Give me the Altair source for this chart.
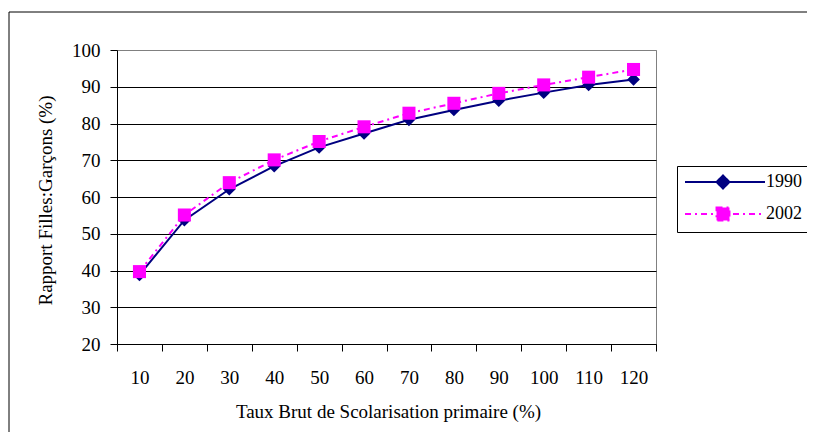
import altair as alt
import pandas as pd

categories = ["10", "20", "30", "40", "50", "60", "70", "80", "90", "100", "110", "120"]
series_names = ["1990", "2002"]
values_1990 = [38.8, 53.7, 62.1, 68.4, 73.5, 77.3, 81.0, 83.7, 86.2, 88.4, 90.5, 92.0]
values_2002 = [39.7, 55.1, 63.9, 70.1, 75.1, 79.1, 82.8, 85.5, 88.2, 90.5, 92.6, 94.7]
y_ticks = [20, 30, 40, 50, 60, 70, 80, 90, 100]

NAVY = "#000080"
MAGENTA = "#FF00FF"
FONT = "Liberation Serif"

rows = []
for c, v in zip(categories, values_1990):
    rows.append({"x": c, "y": v, "series": "1990"})
for c, v in zip(categories, values_2002):
    rows.append({"x": c, "y": v, "series": "2002"})
df = pd.DataFrame(rows)

x_enc = alt.X(
    "x:O",
    sort=categories,
    scale=alt.Scale(type="band", paddingInner=0, paddingOuter=0),
    axis=alt.Axis(
        title="Taux Brut de Scolarisation primaire (%)",
        tickBand="extent",
        tickSize=7,
        labelPadding=17,
        labelAngle=0,
        grid=False,
        domainColor="black",
        tickColor="black",
        titleX=271,
        titleY=73,
        titleBaseline="alphabetic",
        titleAlign="center",
    ),
)
y_enc = alt.Y(
    "y:Q",
    scale=alt.Scale(domain=[20, 100], nice=False, zero=False),
    axis=alt.Axis(
        title="Rapport Filles:Garçons (%)",
        values=y_ticks,
        tickSize=7,
        labelPadding=10,
        domainColor="black",
        tickColor="black",
        grid=True,
        gridColor={"condition": {"test": "datum.value == 100", "value": "#808080"}, "value": "#000000"},
        gridWidth=1,
        titleX=-66,
        titleY=150,
        titleAngle=270,
        titleBaseline="alphabetic",
        titleAlign="center",
    ),
)

base = alt.Chart(df)

line90 = base.transform_filter("datum.series == '1990'").mark_line(color=NAVY, strokeWidth=2).encode(x=x_enc, y=y_enc)
pts90 = base.transform_filter("datum.series == '1990'").mark_point(
    shape="diamond", filled=True, color=NAVY, size=160, opacity=1
).encode(x=x_enc, y=y_enc)
line02 = base.transform_filter("datum.series == '2002'").mark_line(
    color=MAGENTA, strokeWidth=2, strokeDash=[6, 4, 2, 4]
).encode(x=x_enc, y=y_enc)
pts02 = base.transform_filter("datum.series == '2002'").mark_point(
    shape="square", filled=True, color=MAGENTA, size=170, opacity=1
).encode(x=x_enc, y=y_enc)

path90 = "M-1,0L9,0M3.75,-0.81L4.56,0L3.75,0.81L2.94,0Z"
path02 = "M-1,0L9,0M2.94,-0.81L4.56,-0.81L4.56,0.81L2.94,0.81Z"

leg = alt.Legend(
    title=None,
    orient="none",
    legendX=560,
    legendY=116,
    padding=7,
    strokeColor="#000000",
    fillColor="white",
    labelFont=FONT,
    labelFontSize=18,
    labelColor="black",
    symbolSize=256,
    labelOffset=64,
    rowPadding=10,
    symbolStrokeWidth=2,
    symbolOpacity=1,
)
legend_layer = base.transform_filter("false").mark_point(filled=True, opacity=1, strokeWidth=2).encode(
    fill=alt.Fill("series:N", scale=alt.Scale(domain=series_names, range=[NAVY, MAGENTA]), legend=leg),
    stroke=alt.Stroke("series:N", scale=alt.Scale(domain=series_names, range=[NAVY, MAGENTA]), legend=leg),
    shape=alt.Shape("series:N", scale=alt.Scale(domain=series_names, range=[path90, path02]), legend=leg),
    strokeDash=alt.StrokeDash("series:N", scale=alt.Scale(domain=series_names, range=[[1, 0], [6, 4, 2, 4]]), legend=leg),
)

frame_df = pd.DataFrame({"k": [0]})
frame_left = alt.Chart(frame_df).mark_rule(color="black", strokeWidth=1).encode(
    x=alt.value(-108), y=alt.value(-38), y2=alt.value(420)
)
frame_top = alt.Chart(frame_df).mark_rule(color="black", strokeWidth=1).encode(
    x=alt.value(-108), x2=alt.value(720), y=alt.value(-38)
)

chart = (
    alt.layer(line90, pts90, line02, pts02, legend_layer, frame_left, frame_top)
    .properties(
        width=539,
        height=294,
        autosize="none",
        padding={"left": 109, "top": 42, "right": 151, "bottom": 88},
        background="white",
    )
    .configure_view(stroke="#808080", strokeWidth=1)
    .configure_axis(
        labelFont=FONT,
        labelFontSize=19,
        labelColor="black",
        titleFont=FONT,
        titleFontSize=19,
        titleFontWeight="normal",
        titleColor="black",
    )
)

chart.save("out.html", embed_options={"renderer": "svg", "actions": False})
